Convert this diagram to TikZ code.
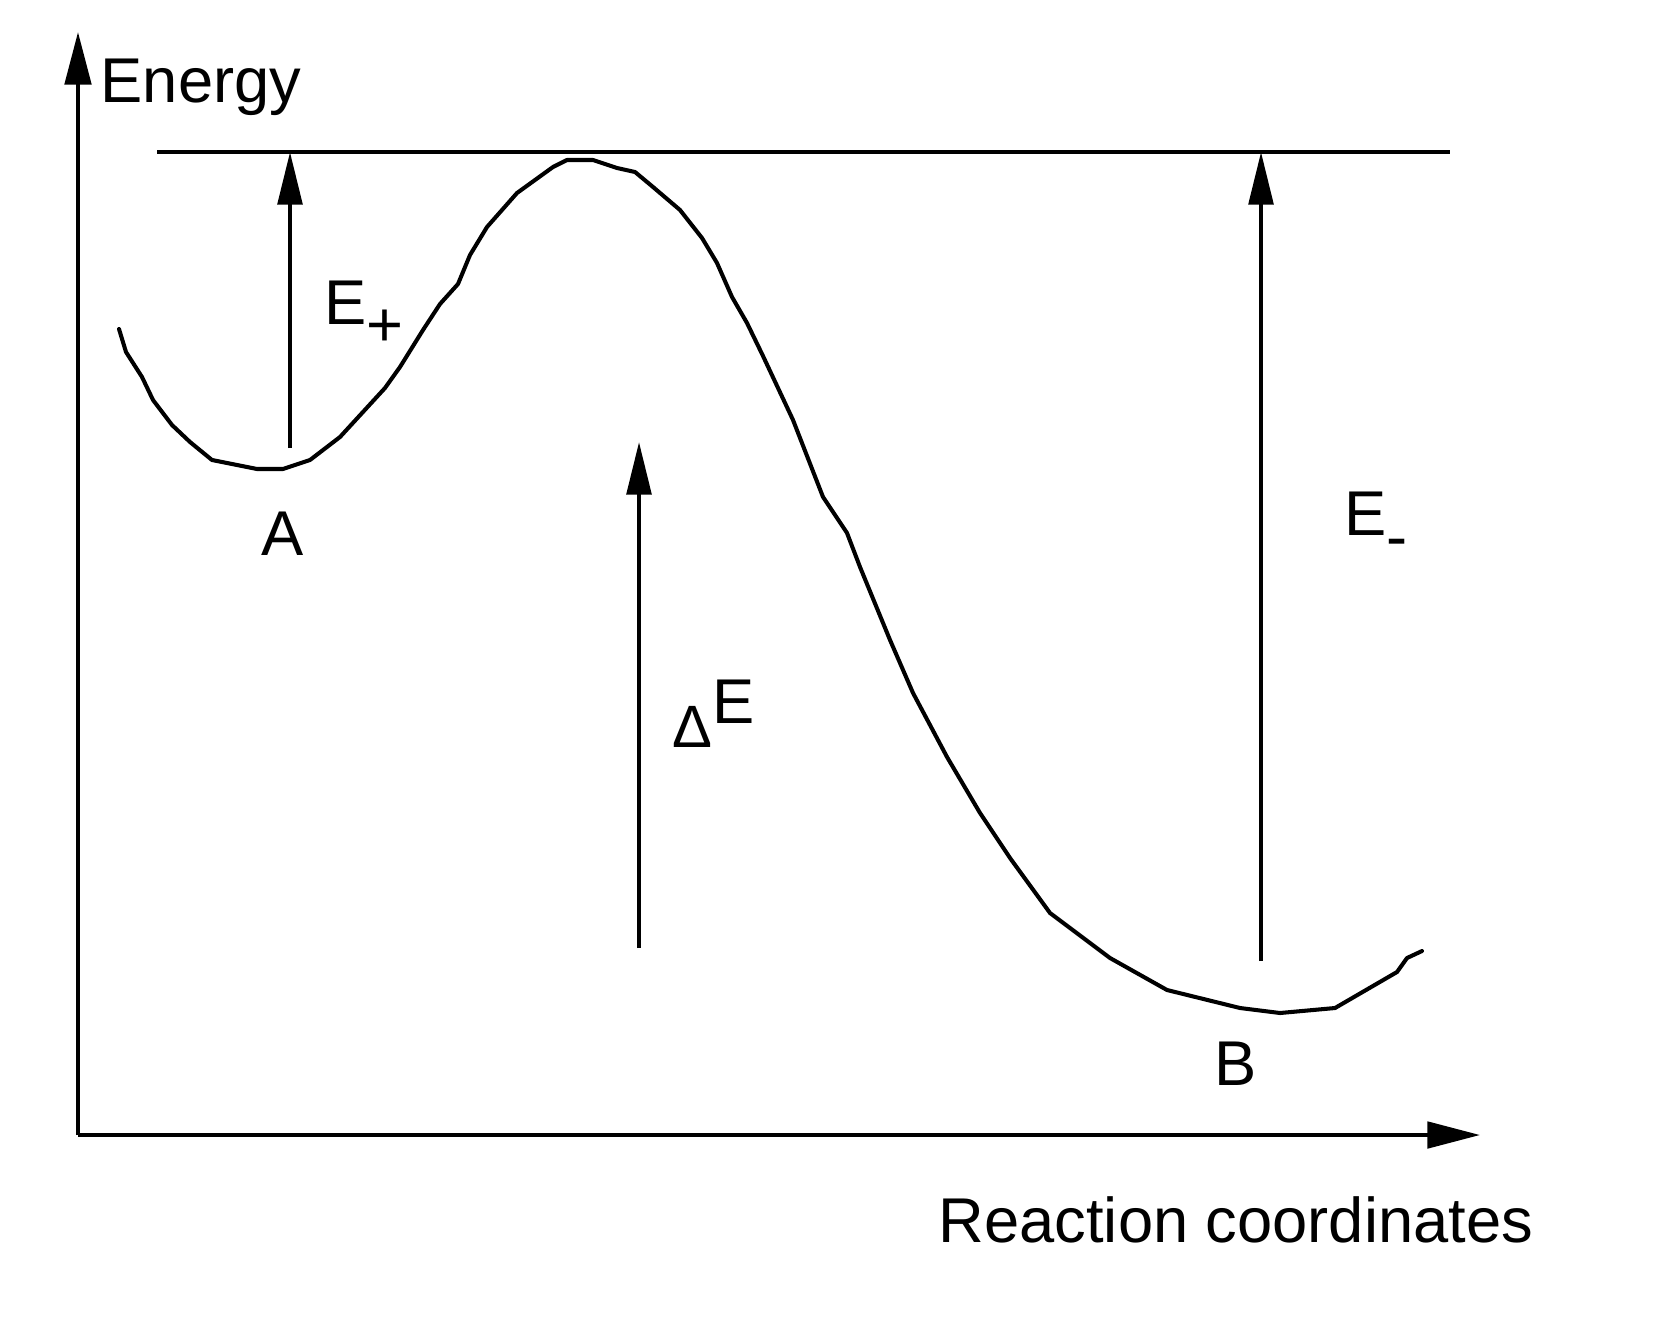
\documentclass[tikz,border=0pt]{standalone}
\usepackage{fontspec}
\setmainfont{Liberation Sans}
\usepackage{tikz}
\usetikzlibrary{arrows.meta}
\usetikzlibrary{positioning}

\tikzset{
  axisline/.style={line width=1.15pt,-{Triangle[length=15pt,width=7.5pt]}},
  uparrow/.style={line width=1.15pt,-{Triangle[length=15pt,width=7pt]}},
  curve/.style={line width=1.15pt,line join=round,line cap=round},
  txt/.style={inner sep=0pt,font=\fontsize{18}{20}\selectfont}
}

\begin{document}
\begin{tikzpicture}
\useasboundingbox (0,0) rectangle (16.64,13.21);

%axes
\coordinate (O) at (0.78,1.86);
\coordinate (ytip) at (0.78,12.89);
\coordinate (xtip) at (14.80,1.86);
\draw[axisline] (O)--(ytip);
\draw[axisline] (O)--(xtip);
\node[txt,anchor=base west] (energy) at (1.00,12.18) {Energy};
\node[txt,anchor=base west] (reaction) at (9.38,0.79) {Reaction coordinates};

%top level
\coordinate (topL) at (1.57,11.69);
\coordinate (topR) at (14.50,11.69);
\draw[line width=1.15pt] (topL)--(topR);

%energy curve
\draw[curve] plot coordinates {
(1.19,9.92) (1.26,9.69) (1.42,9.44) (1.53,9.21) (1.72,8.96) (1.90,8.79)
(2.12,8.61) (2.57,8.52) (2.83,8.52) (3.10,8.61) (3.40,8.84) (3.85,9.33)
(4.00,9.54) (4.23,9.91) (4.40,10.17) (4.58,10.37) (4.70,10.66) (4.87,10.94)
(5.17,11.28) (5.53,11.54) (5.67,11.61) (5.93,11.61) (6.17,11.53) (6.35,11.49)
(6.53,11.34) (6.80,11.11) (7.02,10.83) (7.17,10.58) (7.32,10.24) (7.47,9.98)
(7.63,9.65) (7.93,9.01) (8.23,8.24) (8.47,7.88) (8.60,7.54) (8.90,6.81)
(9.13,6.28) (9.47,5.64) (9.80,5.08) (10.10,4.63) (10.50,4.08) (11.10,3.63)
(11.67,3.31) (12.40,3.13) (12.80,3.08) (13.35,3.13) (13.97,3.49) (14.07,3.63)
(14.22,3.70)};

%states
\node[txt,anchor=base] (lblA) at (2.83,7.66) {A};
\node[txt,anchor=base] (lblB) at (12.36,2.36) {B};

%E+ arrow
\coordinate (aBot) at (2.90,8.73);
\coordinate (aTop) at (2.90,11.69);
\draw[uparrow] (aBot)--(aTop);
\node[txt,anchor=base west] (eplus) at (3.24,9.97) {E\raisebox{-0.23cm}{+}};

%delta E arrow
\coordinate (dBot) at (6.39,3.73);
\coordinate (dTop) at (6.39,8.79);
\draw[uparrow] (dBot)--(dTop);
\node[txt,anchor=base west] (deltaE) at (6.72,5.74) {{\fontsize{17}{18}\selectfont Δ}\raisebox{0.24cm}{E}};

%E- arrow
\coordinate (bBot) at (12.61,3.60);
\coordinate (bTop) at (12.61,11.69);
\draw[uparrow] (bBot)--(bTop);
\node[txt,anchor=base west] (eminus) at (13.44,7.86) {E\raisebox{-0.23cm}{-}};
\end{tikzpicture}
\end{document}
